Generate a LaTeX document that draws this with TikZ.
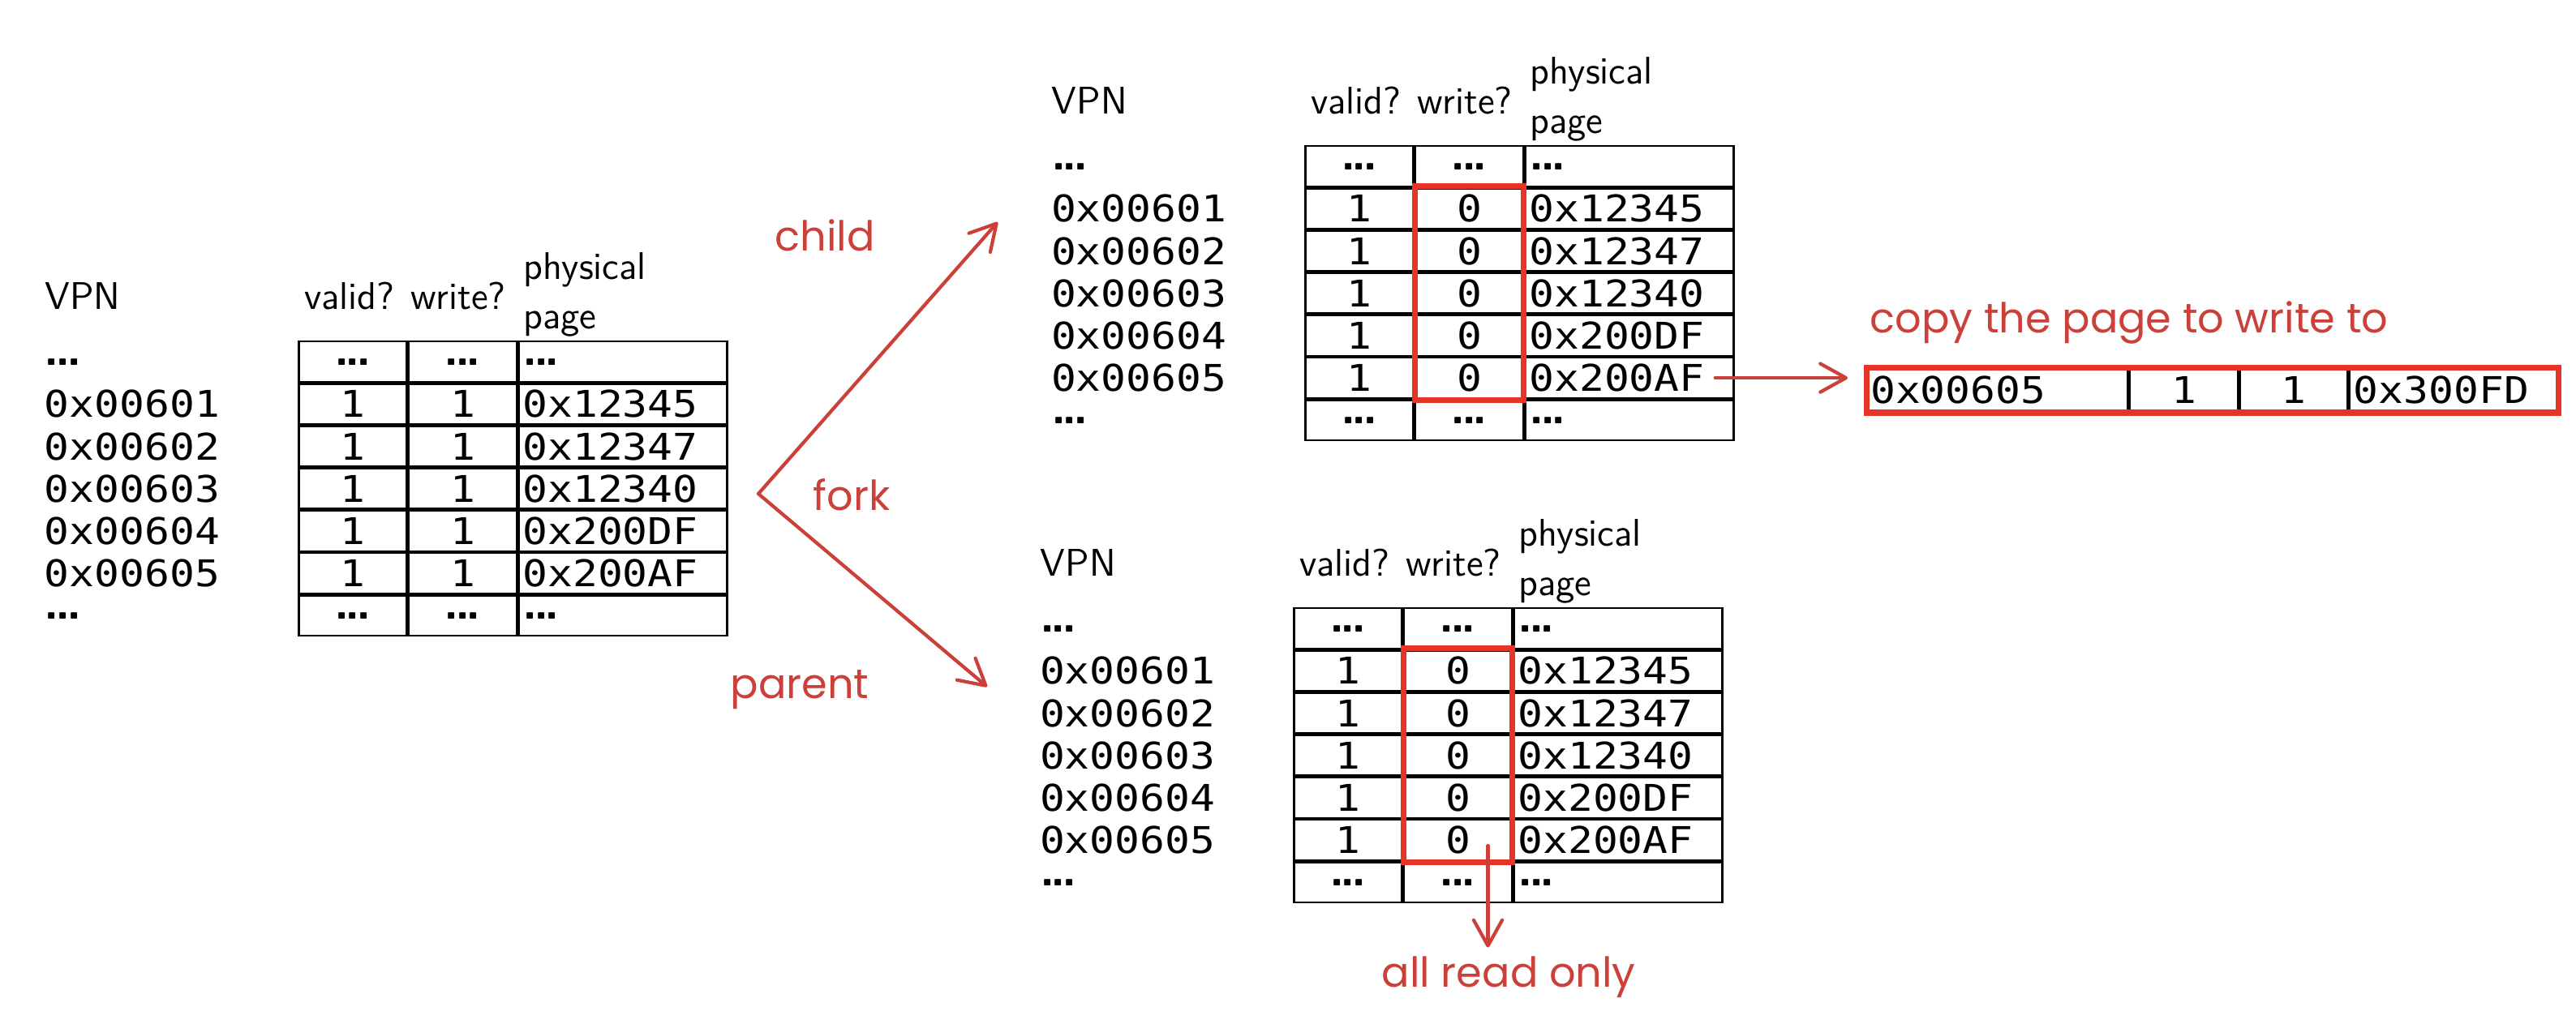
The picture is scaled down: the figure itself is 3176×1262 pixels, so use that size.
\documentclass[tikz,border=0pt]{standalone}
\usepackage{fontspec}
\setmonofont{DejaVu Sans Mono}[FakeStretch=1.13]
\newfontfamily\handfont{Poppins}
\usetikzlibrary{arrows.meta,positioning,matrix,fit}

\definecolor{handred}{RGB}{204,64,58}
\definecolor{boxred}{RGB}{230,52,40}

% heavy three dots used in the tables
\newcommand{\ellip}{{\sffamily\bfseries\fontsize{17}{17}\selectfont.\kern-0.08em.\kern-0.08em.}}

\begin{document}
\begin{tikzpicture}[
    x=0.01cm, y=-0.01cm,
    head/.style={
        font=\sffamily\fontsize{13.5}{16}\selectfont,
        inner sep=0pt
    },
    hand/.style={
        font=\handfont\fontsize{14.5}{17}\selectfont,
        text=handred,
        inner sep=0pt
    },
    handarrow/.style={
        draw=handred,
        line width=1.2pt,
        line cap=round,
        -{Straight Barb[length=9pt, width=10pt, round]}
    },
    rbox/.style={
        draw=boxred,
        line width=2pt,
        inner xsep=0pt,
        inner ysep=0.03cm
    },
    ptable/.style={
        matrix of nodes,
        anchor=north west,
        inner sep=0pt, outer sep=0pt,
        line width=0.7pt,
        row sep=0pt, column sep=0pt,
        nodes={
            draw,
            line width=0.7pt,
            minimum height=0.497cm,
            inner sep=0pt, outer sep=0pt,
            anchor=center,
            font=\ttfamily\fontsize{12.9}{15}\selectfont
        },
        column 1/.style={nodes={draw=none, text width=3.12cm, align=left}},
        column 2/.style={nodes={minimum width=1.33cm}},
        column 3/.style={nodes={minimum width=1.33cm}},
        column 4/.style={nodes={text width=2.47cm, inner xsep=0.05cm, align=left}}
    }
]

    \path[fill=white, use as bounding box] (0,0) rectangle (3176,1262);

    % Page table before the fork
    \matrix[ptable] (left) at (55,420) {
        \ellip  & \ellip & \ellip & \ellip  \\
        0x00601 & 1 & 1 & 0x12345 \\
        0x00602 & 1 & 1 & 0x12347 \\
        0x00603 & 1 & 1 & 0x12340 \\
        0x00604 & 1 & 1 & 0x200DF \\
        0x00605 & 1 & 1 & 0x200AF \\
        \ellip  & \ellip & \ellip & \ellip  \\
    };

    % Child page table
    \matrix[ptable] (child) at (1296,179) {
        \ellip  & \ellip & \ellip & \ellip  \\
        0x00601 & 1 & 0 & 0x12345 \\
        0x00602 & 1 & 0 & 0x12347 \\
        0x00603 & 1 & 0 & 0x12340 \\
        0x00604 & 1 & 0 & 0x200DF \\
        0x00605 & 1 & 0 & 0x200AF \\
        \ellip  & \ellip & \ellip & \ellip  \\
    };

    % Parent page table
    \matrix[ptable] (parent) at (1282,749) {
        \ellip  & \ellip & \ellip & \ellip  \\
        0x00601 & 1 & 0 & 0x12345 \\
        0x00602 & 1 & 0 & 0x12347 \\
        0x00603 & 1 & 0 & 0x12340 \\
        0x00604 & 1 & 0 & 0x200DF \\
        0x00605 & 1 & 0 & 0x200AF \\
        \ellip  & \ellip & \ellip & \ellip  \\
    };

    % Headers
    \foreach \t in {left,child,parent} {
        \node[head, anchor=base west] (\t-vpn) at ([shift={(0,-40)}]\t-1-1.north west) {VPN};
        \node[head, anchor=base west] (\t-valid) at ([shift={(6,-40)}]\t-1-2.north west) {valid?};
        \node[head, anchor=base west] (\t-write) at ([shift={(137,-40)}]\t-1-2.north west) {write?};
        \node[head, anchor=base west] (\t-phys) at ([shift={(5,-77)}]\t-1-4.north west) {physical};
        \node[head, anchor=base west] (\t-page) at ([shift={(5,-16)}]\t-1-4.north west) {page};
    }

    % Read only columns
    \node[rbox, fit=(child-2-3) (child-6-3)] (child-ro) {};
    \node[rbox, fit=(parent-2-3) (parent-6-3)] (parent-ro) {};

    % Copied entry
    \matrix[ptable,
        column 1/.style={nodes={text width=3.12cm, inner xsep=0.05cm, align=left}}
    ] (copied) at (2300,455) {
        0x00605 & 1 & 1 & 0x300FD \\
    };
    \node[rbox, fit=(copied-1-1) (copied-1-4)] (copied-box) {};
    \node[hand, anchor=base west] (copied-note) at ([shift={(5,-45)}]copied.north west) {copy the page to write to};

    % Fork
    \coordinate (fork) at (935,609);
    \coordinate (child-in) at (1230,274);
    \coordinate (parent-in) at (1217,847);
    \draw[handarrow] (fork) -- (child-in);
    \draw[handarrow] (fork) -- (parent-in);

    \node[hand, anchor=base west] (child-lbl) at (955,309) {child};
    \node[hand, anchor=base west] (fork-lbl) at (1002,629) {fork};
    \node[hand, anchor=base west] (parent-lbl) at (900,861) {parent};

    % Annotations
    \draw[handarrow] ([xshift=-0.23cm]child-6-4.east) -- ([xshift=-0.22cm]copied.west |- child-6-4.east);

    \node[hand, anchor=base west] (parent-note) at (1703,1217) {all read only};
    \draw[handarrow] ([shift={(37,7)}]parent-6-3.center) -- ([shift={(37,-10)}]parent-6-3.center |- parent-note.north);

\end{tikzpicture}
\end{document}
